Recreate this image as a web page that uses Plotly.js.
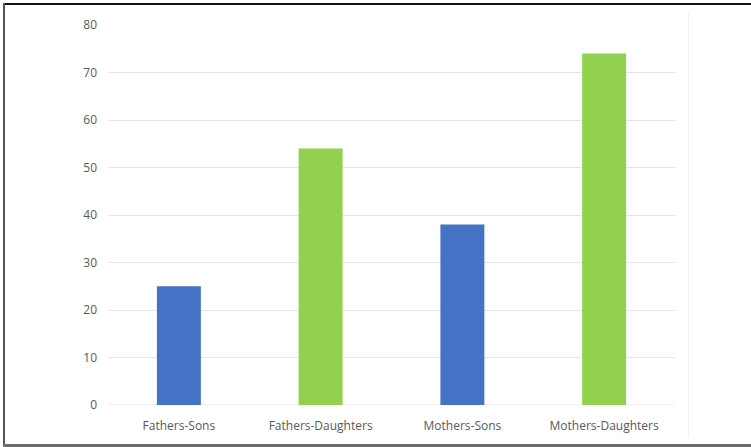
<!DOCTYPE html>
<html>
<head>
<meta charset="utf-8">
<script src="https://cdn.plot.ly/plotly-3.0.1.min.js"></script>
<style>
  html, body { margin: 0; padding: 0; background: #fff; }
  #wrap { position: relative; width: 751px; height: 447px; overflow: hidden; }
  #chart { position: absolute; left: 0; top: 0; width: 751px; height: 447px; }
  .ln { position: absolute; pointer-events: none; }
</style>
</head>
<body>
<div id="wrap">
  <div id="chart"></div>
  <div class="ln" style="left:3px; top:3px; width:748px; height:2px; background:#111;"></div>
  <div class="ln" style="left:3px; top:3px; width:2px; height:443px; background:#555;"></div>
  <div class="ln" style="left:3px; top:444px; width:748px; height:3px; background:#6b6b6b;"></div>
  <div class="ln" style="left:688px; top:12px; width:1px; height:425px; background:#f2f2f2;"></div>
</div>
<script>
const categories = ["Fathers-Sons", "Fathers-Daughters", "Mothers-Sons", "Mothers-Daughters"];
const values = [25, 54, 38, 74];
const barColors = ["#4472C4", "#92D050", "#4472C4", "#92D050"];
const yTicks = [0, 10, 20, 30, 40, 50, 60, 70, 80];

const trace = {
  type: "bar",
  x: categories,
  y: values,
  marker: { color: barColors, line: { width: 0 } },
  hoverinfo: "x+y"
};

const layout = {
  width: 751,
  height: 447,
  margin: { l: 108, r: 76, t: 25, b: 42, pad: 0 },
  paper_bgcolor: "rgba(0,0,0,0)",
  plot_bgcolor: "#ffffff",
  bargap: 0.69,
  showlegend: false,
  font: { family: "Open Sans, sans-serif", size: 12, color: "#595959" },
  xaxis: {
    type: "category",
    showgrid: false,
    showline: false,
    zeroline: false,
    ticks: "",
    ticklabelstandoff: 12,
    tickfont: { family: "Open Sans, sans-serif", size: 12, color: "#595959" },
    automargin: false
  },
  yaxis: {
    range: [0, 80],
    tickvals: yTicks,
    ticktext: yTicks.map(String),
    showgrid: true,
    gridcolor: "#e6e6e6",
    gridwidth: 1,
    zeroline: false,
    showline: false,
    ticks: "",
    ticklabelstandoff: 10,
    tickfont: { family: "Open Sans, sans-serif", size: 12, color: "#595959" },
    automargin: false
  },
  shapes: [{
    type: "line", xref: "paper", yref: "y",
    x0: 0, x1: 1, y0: 0, y1: 0,
    line: { color: "#e0e0e0", width: 1 },
    layer: "below"
  }]
};

Plotly.newPlot("chart", [trace], layout, { displayModeBar: false, staticPlot: true });
</script>
</body>
</html>
